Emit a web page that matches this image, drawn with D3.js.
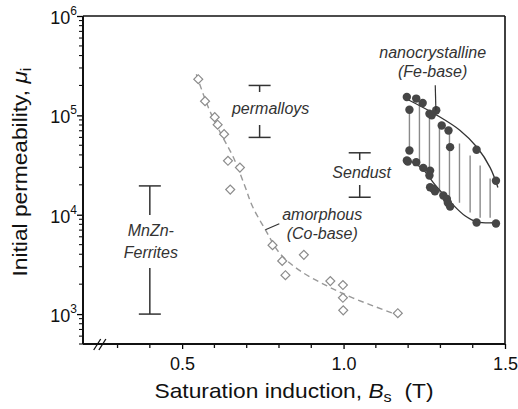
<!DOCTYPE html>
<html>
<head>
<meta charset="utf-8">
<script src="https://cdn.jsdelivr.net/npm/d3@7"></script>
<style>
body { margin: 0; background: #fff; }
text { font-family: "Liberation Sans", Arial, sans-serif; }
</style>
</head>
<body>
<div id="canvas-body"></div>
<script>
// amorphous (Co-base) measurements
var amorphB  = [0.550, 0.571, 0.601, 0.610, 0.630, 0.642, 0.679, 0.649, 0.780, 0.810, 0.820, 0.877, 0.959, 0.998, 0.998, 0.999, 1.168];
var amorphMu = [231000, 139000, 96000, 80500, 64700, 34900, 29800, 17900, 4940, 3430, 2460, 3950, 2150, 1960, 1460, 1090, 1020];

// dashed guide through the amorphous data
var amorphFitB  = [0.544, 0.581, 0.618, 0.659, 0.696, 0.717, 0.758, 0.804, 0.866, 0.949, 1.030, 1.153];
var amorphFitMu = [259000, 120500, 67300, 37600, 18800, 12300, 7050, 4030, 2720, 1920, 1450, 1020];

// nanocrystalline (Fe-base) measurements
var nanoB  = [1.196, 1.225, 1.245, 1.204, 1.266, 1.287, 1.273, 1.304, 1.325, 1.330, 1.412, 1.472,
              1.204, 1.196, 1.199, 1.225, 1.247, 1.268, 1.266, 1.268, 1.278, 1.283, 1.309, 1.320, 1.323, 1.330, 1.412, 1.472];
var nanoMu = [153000, 147500, 133000, 114000, 104000, 112500, 100000, 79200, 70500, 47900, 45100, 22000,
              44300, 35100, 34300, 33800, 29600, 27800, 24800, 18900, 18200, 17200, 15600, 14400, 13200, 12100, 8350, 8170];

// upper and lower boundary of the nanocrystalline band
var nanoUpB  = [1.191, 1.290, 1.361, 1.414, 1.454, 1.478];
var nanoUpMu = [148600, 100000, 70500, 47500, 29800, 18800];
var nanoLoB  = [1.191, 1.243, 1.283, 1.336, 1.376, 1.413, 1.469];
var nanoLoMu = [36800, 29200, 20100, 12900, 9770, 8490, 8300];

// vertical hatching inside the band
var hatchB   = [1.204, 1.235, 1.266, 1.297, 1.328, 1.359, 1.392, 1.423, 1.454];
var hatchTop = [112500, 132000, 104700, 81100, 70500, 52100, 39500, 31300, 23100];
var hatchBot = [44300, 31300, 24800, 16700, 13800, 13200, 10500, 9330, 9330];

// range bars for the other materials
var rangeNames = [["permalloys"], ["Sendust"], ["MnZn-", "Ferrites"]];
var rangeB     = [0.74, 1.05, 0.40];
var rangeHi    = [200000, 42000, 19500];
var rangeLo    = [60000, 15000, 1000];

// axis ticks
var xMajor = [0.5, 1.0, 1.5];
var xMinor = [0.3, 0.4, 0.6, 0.7, 0.8, 0.9, 1.1, 1.2, 1.3, 1.4];
var yMajor = [1e3, 1e4, 1e5, 1e6];
var yExp   = ["3", "4", "5", "6"];

// size of svg image
const W = 518, H = 409;
const margin = {top: 16, right: 13, bottom: 65, left: 83};
const width = W - margin.left - margin.right, height = H - margin.top - margin.bottom;

var s = d3.select("#canvas-body").append("svg")
    .attr("width", W).attr("height", H);
var g = s.append("g")
    .attr("transform", `translate(${margin.left}, ${margin.top})`);

// scales
var x = d3.scaleLinear().domain([0.193, 1.5]).range([0, width]);
var y = d3.scaleLog().domain([500, 1e6]).range([height, 0]);

// minor ticks on the log axis
var yMinor = [];
[100, 1000, 10000, 100000].forEach(function(dec){
    for(var k = 2; k <= 9; k++){
        var v = dec * k;
        if(v >= 500 && v <= 1e6) yMinor.push(v);
    }
});

// hatching
g.selectAll(".hatch")
    .data(hatchB)
    .enter().append("line")
    .attr("x1", function(d){ return x(d); })
    .attr("x2", function(d){ return x(d); })
    .attr("y1", function(d, i){ return y(hatchTop[i]); })
    .attr("y2", function(d, i){ return y(hatchBot[i]); })
    .attr("stroke", "#8a8a8a")
    .attr("stroke-width", 1.4);

// boundary lines
var linefunc = d3.line()
    .x(function(d){ return x(d[0]); })
    .y(function(d){ return y(d[1]); })
    .curve(d3.curveCatmullRom);
g.append("path")
    .attr("d", linefunc(d3.zip(nanoUpB, nanoUpMu)))
    .attr("fill", "none").attr("stroke", "#333").attr("stroke-width", 1.3);
g.append("path")
    .attr("d", linefunc(d3.zip(nanoLoB, nanoLoMu)))
    .attr("fill", "none").attr("stroke", "#333").attr("stroke-width", 1.3);

// nanocrystalline points
g.selectAll(".nano")
    .data(d3.zip(nanoB, nanoMu))
    .enter().append("circle")
    .attr("cx", function(d){ return x(d[0]); })
    .attr("cy", function(d){ return y(d[1]); })
    .attr("r", 4.2)
    .attr("fill", "#464646");

// dashed amorphous guide
g.append("path")
    .attr("d", linefunc(d3.zip(amorphFitB, amorphFitMu)))
    .attr("fill", "none")
    .attr("stroke", "#999")
    .attr("stroke-width", 1.4)
    .attr("stroke-dasharray", "6,4");

// amorphous points (open diamonds)
var diamond = d3.symbol().type(d3.symbolSquare).size(40);
g.selectAll(".amorph")
    .data(d3.zip(amorphB, amorphMu))
    .enter().append("path")
    .attr("d", diamond)
    .attr("transform", function(d){ return `translate(${x(d[0])},${y(d[1])}) rotate(45)`; })
    .attr("fill", "#fff")
    .attr("stroke", "#8c8c8c")
    .attr("stroke-width", 1.2);

// range bars with their labels
var labelDx  = [11, 2, 1];
var labelMid = [108.5, 172.5, 241.5];
var labelGap = [16.5, 12.5, 26.5];
var capW = 11;
rangeB.forEach(function(b, i){
    var cx = x(b), top = y(rangeHi[i]), bot = y(rangeLo[i]);
    var mid = labelMid[i] - margin.top;
    var bar = g.append("g").attr("stroke", "#333").attr("stroke-width", 1.5);
    bar.append("line").attr("x1", cx - capW).attr("x2", cx + capW).attr("y1", top).attr("y2", top);
    bar.append("line").attr("x1", cx - capW).attr("x2", cx + capW).attr("y1", bot).attr("y2", bot);
    bar.append("line").attr("x1", cx).attr("x2", cx).attr("y1", top).attr("y2", mid - labelGap[i]);
    bar.append("line").attr("x1", cx).attr("x2", cx).attr("y1", mid + labelGap[i]).attr("y2", bot);
    var lines = rangeNames[i];
    lines.forEach(function(t, j){
        g.append("text")
            .attr("x", cx + labelDx[i])
            .attr("y", mid + 5.5 + (j - (lines.length - 1) / 2) * 21.5)
            .attr("text-anchor", "middle")
            .attr("font-size", 16).attr("font-style", "italic").attr("fill", "#333")
            .text(t);
    });
});

// labels for amorphous and nanocrystalline
function note(lines, b, mu){
    lines.forEach(function(t, j){
        g.append("text")
            .attr("x", x(b)).attr("y", y(mu) + j * 19)
            .attr("text-anchor", "middle")
            .attr("font-size", 16).attr("font-style", "italic").attr("fill", "#333")
            .text(t);
    });
}
note(["amorphous", "(Co-base)"], 0.934, 8850);
note(["nanocrystalline", "(Fe-base)"], 1.276, 378000);
g.append("line")
    .attr("x1", x(0.758)).attr("y1", y(7050))
    .attr("x2", x(0.801)).attr("y2", y(8110))
    .attr("stroke", "#333").attr("stroke-width", 1.2);
g.append("line")
    .attr("x1", x(1.284)).attr("y1", y(201000))
    .attr("x2", x(1.286)).attr("y2", y(112500))
    .attr("stroke", "#333").attr("stroke-width", 1.2);

// frame
g.append("line").attr("x1", 0).attr("x2", width).attr("y1", 0).attr("y2", 0)
    .attr("stroke", "#111").attr("stroke-width", 1.6);
g.append("line").attr("x1", width).attr("x2", width).attr("y1", 0).attr("y2", height)
    .attr("stroke", "#111").attr("stroke-width", 1.6);

// x axis
var xaxis = g.append("g").attr("transform", "translate(0," + height + ")");
xaxis.call(d3.axisBottom(x).tickValues(xMajor).tickFormat(d3.format(".1f")).tickSize(5).tickPadding(8));
xaxis.selectAll(".tick text").attr("font-size", 18).attr("font-family", "Liberation Sans, Arial, sans-serif").attr("fill", "#111");
xaxis.select(".domain").remove();
xaxis.selectAll(".minor")
    .data(xMinor)
    .enter().append("line")
    .attr("x1", function(d){ return x(d); }).attr("x2", function(d){ return x(d); })
    .attr("y1", 0).attr("y2", 4)
    .attr("stroke", "#111").attr("stroke-width", 1.3);
xaxis.selectAll(".tick line").attr("stroke-width", 1.3);
xaxis.append("line").attr("x1", 0).attr("x2", width).attr("y1", 0).attr("y2", 0)
    .attr("stroke", "#111").attr("stroke-width", 2);

// axis break
xaxis.selectAll(".brk")
    .data([0.237, 0.253])
    .enter().append("line")
    .attr("x1", function(d){ return x(d) - 3.5; }).attr("y1", 6)
    .attr("x2", function(d){ return x(d) + 3.5; }).attr("y2", -5)
    .attr("stroke", "#111").attr("stroke-width", 1.3);

// y axis
var yaxis = g.append("g");
yaxis.call(d3.axisLeft(y).tickValues(yMajor).tickFormat("").tickSize(6));
yaxis.select(".domain").remove();
yaxis.selectAll(".tick line").attr("stroke-width", 1.3);
yaxis.selectAll(".minor")
    .data(yMinor)
    .enter().append("line")
    .attr("x1", -4).attr("x2", 0)
    .attr("y1", function(d){ return y(d); }).attr("y2", function(d){ return y(d); })
    .attr("stroke", "#111").attr("stroke-width", 1.1);
yaxis.append("line").attr("x1", 0).attr("x2", 0).attr("y1", 0).attr("y2", height)
    .attr("stroke", "#111").attr("stroke-width", 2);
yMajor.forEach(function(v, i){
    var t = yaxis.append("text")
        .attr("x", -6).attr("y", y(v) + 8)
        .attr("text-anchor", "end")
        .attr("font-size", 18).attr("fill", "#111");
    t.append("tspan").text("10");
    t.append("tspan").attr("dy", -9).attr("font-size", 12).text(yExp[i]);
});

// axis titles
var xt = s.append("text")
    .attr("x", margin.left + width / 2).attr("y", 398)
    .attr("text-anchor", "middle").attr("font-size", 21).attr("fill", "#111");
xt.append("tspan").text("Saturation induction, ");
xt.append("tspan").attr("font-style", "italic").text("B");
xt.append("tspan").attr("font-size", 15).attr("dy", 4).text("s");
xt.append("tspan").attr("dy", -4).text("\u00a0 (T)");
xt.attr("textLength", 279).attr("lengthAdjust", "spacingAndGlyphs");

var yt = s.append("text")
    .attr("transform", "translate(27," + 172 + ") rotate(-90)")
    .attr("text-anchor", "middle").attr("font-size", 21).attr("fill", "#111");
yt.append("tspan").text("Initial permeability, ");
yt.append("tspan").attr("font-style", "italic").text("\u03bc");
yt.append("tspan").attr("font-size", 15).attr("dy", 4).text("i");
yt.attr("textLength", 209).attr("lengthAdjust", "spacingAndGlyphs");
</script>
</body>
</html>
